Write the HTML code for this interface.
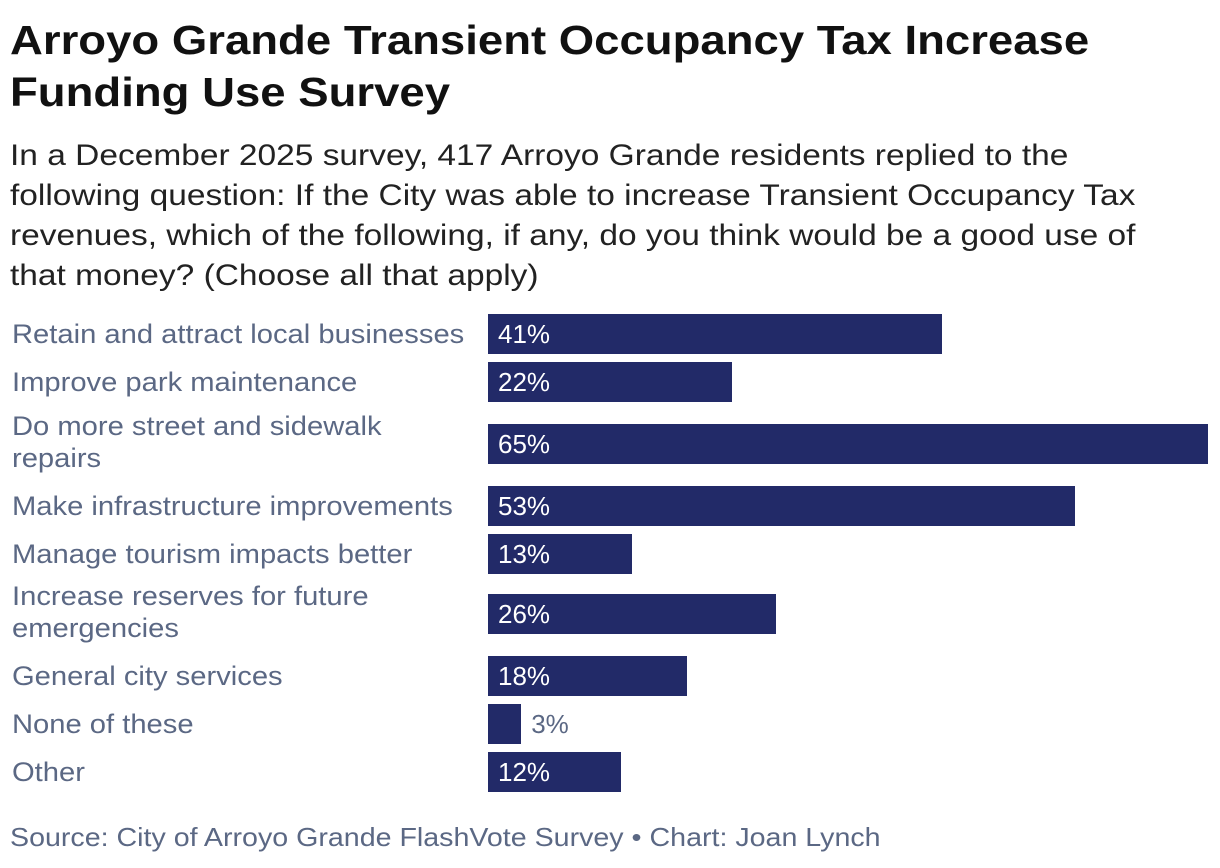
<!DOCTYPE html>
<html><head><meta charset="utf-8">
<style>
body{margin:0;width:1220px;height:868px;background:#fff;font-family:"Liberation Sans",sans-serif;position:relative;overflow:hidden}
.sx{display:inline-block;transform-origin:0 0;white-space:nowrap}
#title{position:absolute;left:10px;top:14px;font-size:41px;font-weight:bold;line-height:52px;color:#111;margin:0;transform:scaleX(1.11)}
#sub{position:absolute;left:10px;top:136px;font-size:29.5px;line-height:40px;color:#222;margin:0;transform:scaleX(1.135)}
.lbl{position:absolute;left:12px;font-size:27px;line-height:32px;color:#5b6884;transform:scaleX(1.08)}
.bar{position:absolute;left:488px;height:40px;background:#222a68}
.val{position:absolute;font-size:26px;line-height:40px}
#src{position:absolute;left:10px;top:822px;font-size:26px;color:#5b6884;transform:scaleX(1.1)}
</style></head><body>
<h1 id="title" class="sx">Arroyo Grande Transient Occupancy Tax Increase<br>Funding Use Survey</h1>
<p id="sub" class="sx">In a December 2025 survey, 417 Arroyo Grande residents replied to the<br>following question: If the City was able to increase Transient Occupancy Tax<br>revenues, which of the following, if any, do you think would be a good use of<br>that money? (Choose all that apply)</p>
<div id="chart"></div>
<div id="src" class="sx">Source: City of Arroyo Grande FlashVote Survey • Chart: Joan Lynch</div>
<script>
const categories=["Retain and attract local businesses","Improve park maintenance","Do more street and sidewalk|repairs","Make infrastructure improvements","Manage tourism impacts better","Increase reserves for future|emergencies","General city services","None of these","Other"];
const values=[41,22,65,53,13,26,18,3,12];
const rowTops=[314,362,424,486,534,594,656,704,752];
const x=v=>v*720/65;
const chart=document.getElementById('chart');
categories.forEach((c,i)=>{
  const top=rowTops[i];
  const two=c.includes('|');
  const l=document.createElement('div');l.className='lbl sx';
  
  
  l.style.top=(two?top-14:top+4)+'px';
  l.innerHTML=c.replace('|','<br>');
  chart.appendChild(l);
  const b=document.createElement('div');b.className='bar';
  
  
  b.style.top=top+'px';b.style.width=x(values[i])+'px';
  chart.appendChild(b);
  const t=document.createElement('div');t.className='val';
  
  
  t.style.top=top+'px';
  t.textContent=values[i]+'%';
  if(x(values[i])<60){t.style.left=(488+x(values[i])+10)+'px';t.style.color='#5b6884';}
  else{t.style.left='498px';t.style.color='#fff';}
  chart.appendChild(t);
});
</script>
</body></html>
